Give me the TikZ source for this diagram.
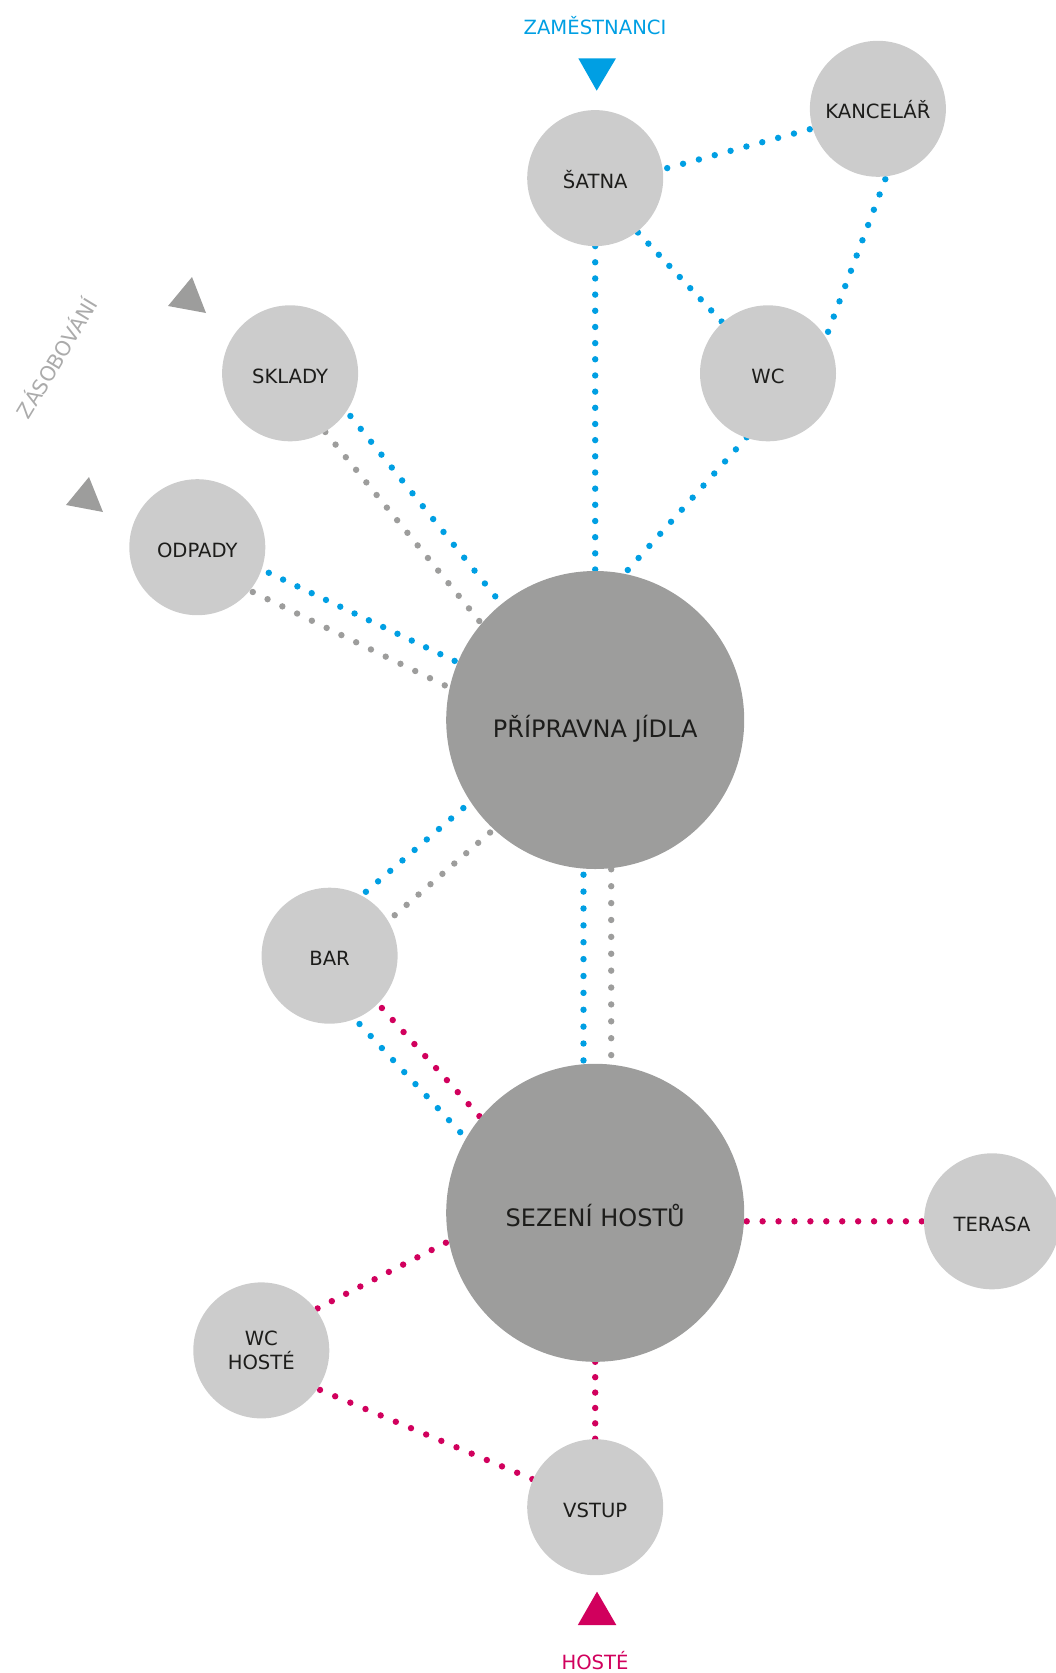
\documentclass[tikz,border=0pt]{standalone}
\usepackage{fontspec}
\setmainfont{DejaVu Sans}
\usetikzlibrary{backgrounds}
\definecolor{cblue}{HTML}{009FE3}
\definecolor{cmag}{HTML}{D1005D}
\definecolor{cgrey}{HTML}{9D9D9C}
\definecolor{clight}{HTML}{CCCCCC}
\definecolor{cdark}{HTML}{9D9D9C}
\definecolor{ctext}{HTML}{1D1D1B}
\definecolor{czas}{HTML}{ABABAB}
\tikzset{
  room/.style={circle, inner sep=0pt, minimum size=136pt, fill=clight, text=ctext,
    font=\fontsize{19.6}{24.5}\selectfont, align=center, text height=20.3pt, text depth=0pt},
  room2/.style={circle, inner sep=0pt, minimum size=136pt, fill=clight, text=ctext,
    font=\fontsize{19.6}{24.5}\selectfont, align=center},
  bigroom/.style={circle, inner sep=0pt, minimum size=298pt, fill=cdark, text=ctext,
    font=\fontsize{24}{29}\selectfont, align=center, text height=31.5pt, text depth=0pt},
  sp/.style={dash pattern=on 0pt off #1pt},
  dotline/.style={line width=6.4pt, line cap=round},
  bl/.style={dotline, draw=cblue},
  gl/.style={dotline, draw=cgrey},
  ml/.style={dotline, draw=cmag},
  flowlabel/.style={inner sep=0pt, font=\fontsize{19.6}{24}\selectfont},
}
\begin{document}
\begin{tikzpicture}[x=1pt, y=-1pt]
\useasboundingbox (0,0) rectangle (1056,1673);

% rooms
\node[room] (satna) at (595.2,178.1) {ŠATNA};
\node[room] (kanc) at (877.9,108.8) {KANCELÁŘ};
\node[room] (wc) at (768,373.3) {WC};
\node[room] (sklady) at (290.1,373.3) {SKLADY};
\node[room] (odpady) at (197.3,547.2) {ODPADY};
\node[bigroom, text height=35.5pt] (prip) at (595.2,720) {PŘÍPRAVNA JÍDLA};
\node[room] (bar) at (329.6,955.7) {BAR};
\node[bigroom, text height=27pt] (sez) at (595.2,1212.8) {SEZENÍ HOSTŮ};
\node[room] (terasa) at (992,1221.3) {TERASA};
\node[room2] (wch) at (261.3,1350.4) {WC\\HOSTÉ};
\node[room] (vstup) at (595.2,1507.2) {VSTUP};

% connectors
\begin{pgfonlayer}{background}
\draw[bl, sp=16.42] ([shift={(72,-10)}]satna.center) -- ([shift={(-67.2,20.2)}]kanc.center);
\draw[bl, sp=15.28] ([shift={(42.7,54.4)}]satna.center) -- ([shift={(-45.8,-51.2)}]wc.center);
\draw[bl, sp=16.3] ([shift={(7.4,70.4)}]kanc.center) -- ([shift={(59.7,-40.5)}]wc.center);
\draw[bl, sp=16.17] ([shift={(0,68)}]satna.center) -- ([shift={(0,-149)}]prip.center);
\draw[bl, sp=16.2] ([shift={(-21.3,64)}]wc.center) -- ([shift={(32,-149.3)}]prip.center);
\draw[bl, sp=16.52] ([shift={(60.3,42.7)}]sklady.center) -- ([shift={(-99.2,-122.7)}]prip.center);
\draw[gl, sp=16.25] ([shift={(35.2,58.7)}]sklady.center) -- ([shift={(-115.2,-98.1)}]prip.center);
\draw[bl, sp=15.82] ([shift={(71.5,25.6)}]odpady.center) -- ([shift={(-139.7,-58.7)}]prip.center);
\draw[gl, sp=16.42] ([shift={(55.5,44.8)}]odpady.center) -- ([shift={(-149.3,-34.1)}]prip.center);
\draw[bl, sp=16.06] ([shift={(36.3,-63.9)}]bar.center) -- ([shift={(-131.2,87.5)}]prip.center);
\draw[gl, sp=15.78] ([shift={(65.1,-40.5)}]bar.center) -- ([shift={(-104.5,112)}]prip.center);
\draw[bl, sp=16.88] ([shift={(-11.7,154.7)}]prip.center) -- ([shift={(-11.7,-151.5)}]sez.center);
\draw[gl, sp=16.89] ([shift={(16,149.3)}]prip.center) -- ([shift={(16,-156.8)}]sez.center);
\draw[bl, sp=16.42] ([shift={(29.9,68.3)}]bar.center) -- ([shift={(-134.4,-80)}]sez.center);
\draw[ml, sp=16.18] ([shift={(52.3,52.3)}]bar.center) -- ([shift={(-115.2,-96)}]sez.center);
\draw[ml, sp=15.92] ([shift={(151.5,8.5)}]sez.center) -- ([shift={(-69.3,0)}]terasa.center);
\draw[ml, sp=16.02] ([shift={(-149.3,29.9)}]sez.center) -- ([shift={(55.5,-41.6)}]wch.center);
\draw[ml, sp=16.45] ([shift={(58.7,39.5)}]wch.center) -- ([shift={(-61.9,-27.7)}]vstup.center);
\draw[ml, sp=15.38] ([shift={(0,149)}]sez.center) -- ([shift={(0,-68)}]vstup.center);
\end{pgfonlayer}

% entry markers
\node[flowlabel, text=cblue] (zam) at (595,26) {ZAMĚSTNANCI};
\fill[cblue] (578.3,58.3) -- (616,58.3) -- (596.7,90.7) -- cycle;
\node[flowlabel, text=cmag] (hoste) at (595,1661) {HOSTÉ};
\fill[cmag] (597,1591.6) -- (616.3,1625) -- (577.8,1625) -- cycle;
\fill[cgrey] (192,277) -- (168,306) -- (206,313) -- cycle;
\fill[cgrey] (89,477) -- (66,505) -- (103,512) -- cycle;
\node[flowlabel, text=czas, rotate=58.8, font=\fontsize{20.5}{24}\selectfont] (zas) at (55.8,357.5) {ZÁSOBOVÁNÍ};
\end{tikzpicture}
\end{document}
